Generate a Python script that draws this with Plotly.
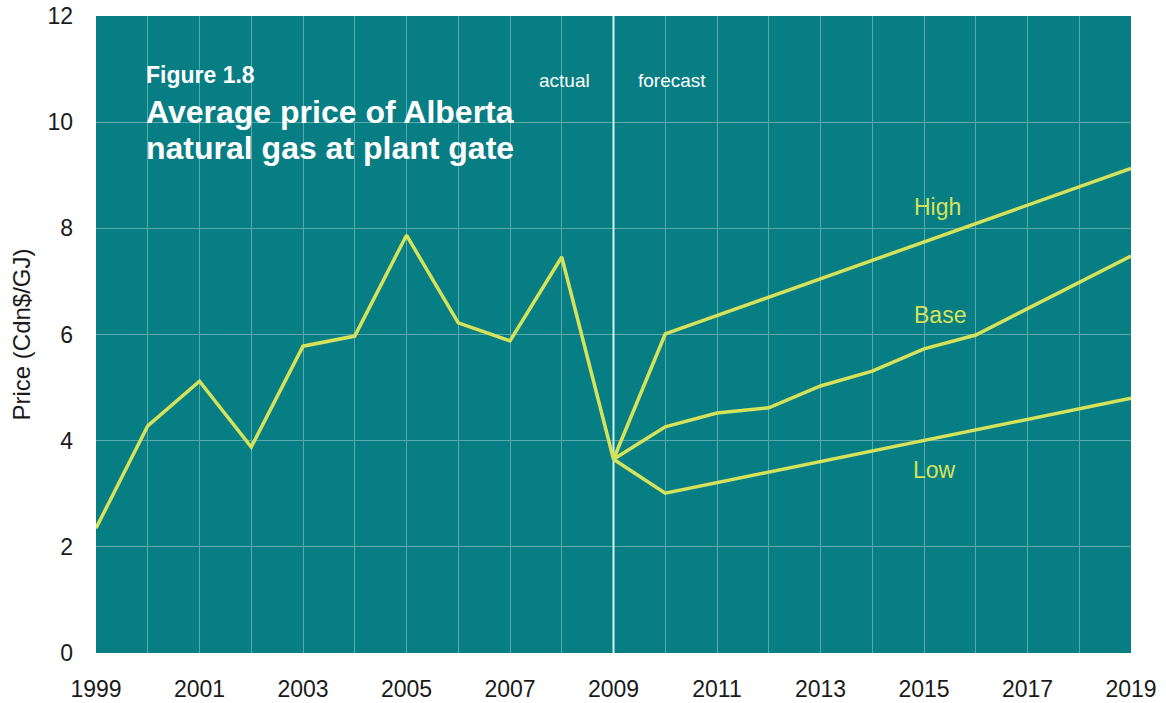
import plotly.graph_objects as go

# Historical average plant-gate price (Cdn$/GJ)
actual_years = [1999, 2000, 2001, 2002, 2003, 2004, 2005, 2006, 2007, 2008, 2009]
actual_price = [2.35, 4.28, 5.12, 3.88, 5.78, 5.97, 7.87, 6.22, 5.88, 7.46, 3.65]

# Forecast scenarios, starting from the 2009 value
high_years = [2009, 2010, 2019]
high_price = [3.65, 6.01, 9.13]

base_years = [2009, 2010, 2011, 2012, 2013, 2014, 2015, 2016, 2019]
base_price = [3.65, 4.26, 4.52, 4.62, 5.03, 5.31, 5.73, 5.99, 7.48]

low_years = [2009, 2010, 2019]
low_price = [3.65, 3.01, 4.80]

scenario_labels = ["High", "Base", "Low"]
label_pos = [(2015.27, 8.40), (2015.31, 6.37), (2015.21, 3.45)]

x_ticks = list(range(1999, 2020, 2))
y_ticks = list(range(0, 13, 2))

TEAL = "#077d84"
LINE = "#d6e35a"
GRID = "#5aa9ad"
FONT = "Liberation Sans, Arial, sans-serif"

fig = go.Figure()
line_style = dict(color=LINE, width=3.5)
for xs, ys in [(actual_years, actual_price), (high_years, high_price),
               (base_years, base_price), (low_years, low_price)]:
    fig.add_trace(go.Scatter(x=xs, y=ys, mode="lines", line=line_style,
                             hoverinfo="skip", showlegend=False))

# Divider between actual and forecast, drawn above the grid
fig.add_shape(type="line", x0=2009, x1=2009, y0=0, y1=12, xref="x", yref="y",
              line=dict(color="#d0f2f3", width=2), layer="between")

for name, (lx, ly) in zip(scenario_labels, label_pos):
    fig.add_annotation(x=lx, y=ly, text=name, showarrow=False,
                       font=dict(family=FONT, size=23, color=LINE),
                       xanchor="center", yanchor="middle")

fig.add_annotation(x=2008.06, y=10.78, text="actual", showarrow=False,
                   font=dict(family=FONT, size=19, color="white"),
                   xanchor="center", yanchor="middle")
fig.add_annotation(x=2010.13, y=10.78, text="forecast", showarrow=False,
                   font=dict(family=FONT, size=19, color="white"),
                   xanchor="center", yanchor="middle")

title_lines = [("<b>Figure 1.8</b>", 10.89, 23),
               ("<b>Average price of Alberta</b>", 10.19, 32),
               ("<b>natural gas at plant gate</b>", 9.51, 32)]
for text, ty, size in title_lines:
    fig.add_annotation(x=1999.93, y=ty, text=text, showarrow=False,
                       font=dict(family=FONT, size=size, color="white"),
                       xanchor="left", yanchor="middle")

fig.update_layout(
    width=1166, height=703,
    margin=dict(l=96, r=35, t=16, b=50, autoexpand=False),
    paper_bgcolor="white", plot_bgcolor=TEAL,
    font=dict(family=FONT, size=23, color="#1a1a1a"),
    xaxis=dict(range=[1999, 2019], tickvals=x_ticks, showgrid=False,
               zeroline=False, showline=False, ticks="", automargin=False,
               ticklabelstandoff=20,
               minor=dict(dtick=1, tick0=1999, showgrid=True,
                          gridcolor=GRID, gridwidth=1)),
    yaxis=dict(range=[0, 12], tickvals=y_ticks, showgrid=True,
               gridcolor=GRID, gridwidth=1, zeroline=False, showline=False,
               ticks="", ticklabelstandoff=22, automargin=False,
               title=dict(text="Price (Cdn$/GJ)", standoff=10,
                          font=dict(size=24))),
)

fig.write_html("out.html")
